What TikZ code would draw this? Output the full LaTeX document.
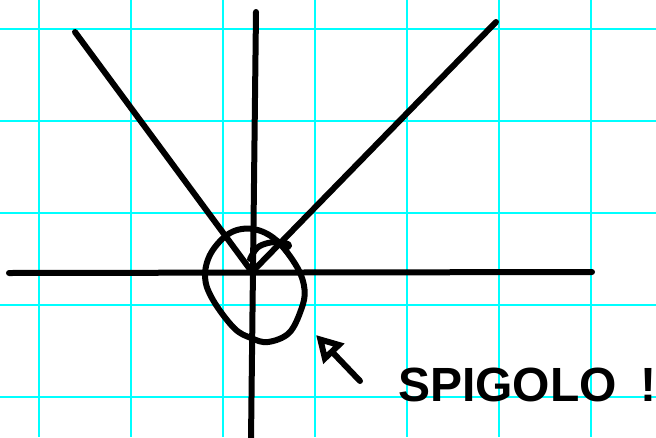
\documentclass[tikz,border=0pt]{standalone}
\usepackage{fontspec}
\usepackage{tikz}
\usetikzlibrary{arrows.meta,calc,positioning}
\newfontfamily\handfont{Liberation Sans}
\definecolor{gridcyan}{RGB}{0,255,255}
\tikzset{
  gridline/.style={
    gridcyan,
    line width=2pt
  },
  pen/.style={
    black,
    line width=6pt,
    line cap=round,
    line join=round
  },
  shout/.style={
    font = \handfont\bfseries\fontsize{48}{48}\selectfont,
    anchor = base west,
    inner sep=0pt
  }
}

\begin{document}
\begin{tikzpicture}[x=1pt,y=-1pt]
    \def\W{656}
    \def\H{437}
    \def\cell{92}
    \fill[white] (0,0) rectangle (\W,\H);
    \useasboundingbox (0,0) rectangle (\W,\H);
    % quaderno
    \foreach \i in {0,...,6} {
        \draw[gridline] (39+\i*\cell,0) -- (39+\i*\cell,\H);
    }
    \foreach \j in {0,...,4} {
        \draw[gridline] (0,29+\j*\cell) -- (\W,29+\j*\cell);
    }
    % assi e rette
    \coordinate (O) at (252,272);
    \coordinate (xl) at (9,273);
    \coordinate (xr) at (592,272);
    \coordinate (ytop) at (256,12);
    \coordinate (ybot) at (251,440);
    \coordinate (lt) at (75,32);
    \coordinate (rt) at (496,22);
    \draw[pen] (xl) -- (xr);
    \draw[pen] (ytop) -- (ybot);
    \draw[pen] (lt) -- (O) -- (rt);
    % cerchio intorno allo spigolo
    \draw[pen] plot[smooth cycle, tension=0.6] coordinates {
        (253,229) (276,240) (297,267) (304.6,290) (301,310) (289,333)
        (268,342) (251,338) (234,328) (213,300) (205,277) (211,253) (230,233)};
    \draw[pen] plot[smooth, tension=0.6] coordinates {
        (250,259) (257,248) (268,243) (281,242) (289,245) (286,248)};
    % scritta
    \node[shout] (spig) at (398,401) {SPIGOLO\enspace!};
    \coordinate (tail) at (360,381);
    \coordinate (tip) at (316,335);
    \draw[pen, -{Triangle[open,length=26pt,width=28pt]}] (tail) -- (tip);
\end{tikzpicture}
\end{document}
